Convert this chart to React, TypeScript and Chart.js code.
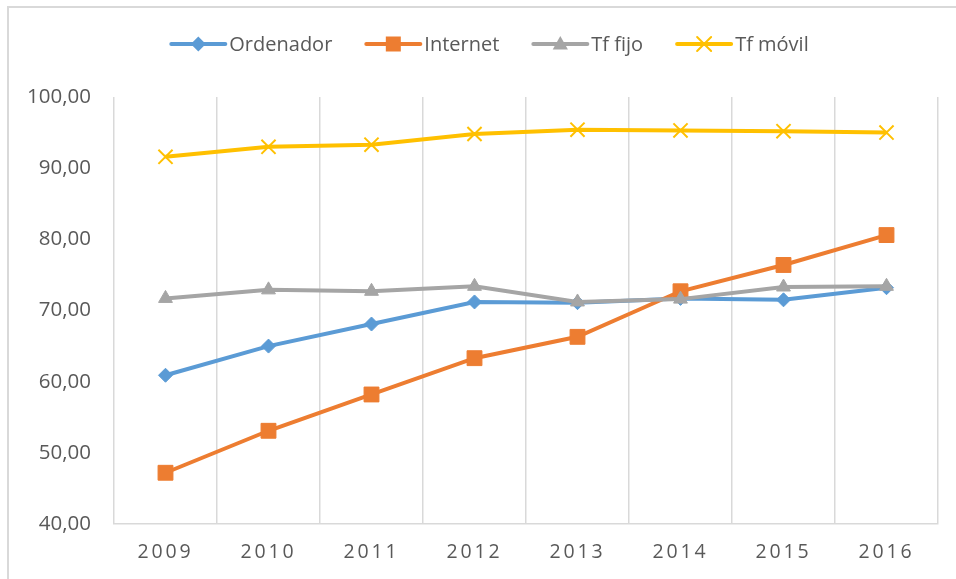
import React, { useEffect, useRef } from "react";
import { Chart, registerables } from "chart.js";

Chart.register(...registerables);

const years = ["2009", "2010", "2011", "2012", "2013", "2014", "2015", "2016"];
const ordenador = [60.9, 65.0, 68.1, 71.2, 71.1, 71.7, 71.5, 73.2];
const internet = [47.2, 53.1, 58.2, 63.3, 66.3, 72.7, 76.4, 80.6];
const tfFijo = [71.7, 72.9, 72.7, 73.4, 71.2, 71.6, 73.3, 73.4];
const tfMovil = [91.6, 93.0, 93.3, 94.8, 95.4, 95.3, 95.2, 95.0];
const yTicks = { min: 40, max: 100, step: 10 };

const FONT = "'Open Sans', sans-serif";
const TEXT = "#595959";
const GRID = "#d9d9d9";

const seriesDefs = [
  { label: "Ordenador", data: ordenador, color: "#5B9BD5", style: "rectRot", radius: 7, order: 4 },
  { label: "Internet", data: internet, color: "#ED7D31", style: "rect", radius: 10.5, order: 3 },
  { label: "Tf fijo", data: tfFijo, color: "#A5A5A5", style: "triangle", radius: 8, order: 2 },
  { label: "Tf móvil", data: tfMovil, color: "#FFC000", style: "crossRot", radius: 10, order: 1 },
];

function drawMarker(ctx: CanvasRenderingContext2D, style: string, x: number, y: number, color: string) {
  ctx.fillStyle = color;
  ctx.strokeStyle = color;
  ctx.beginPath();
  if (style === "rectRot") {
    const r = 7.5;
    ctx.moveTo(x, y - r);
    ctx.lineTo(x + r, y);
    ctx.lineTo(x, y + r);
    ctx.lineTo(x - r, y);
    ctx.closePath();
    ctx.fill();
  } else if (style === "rect") {
    const h = 7.5;
    ctx.rect(x - h, y - h, 2 * h, 2 * h);
    ctx.fill();
  } else if (style === "triangle") {
    const r = 8;
    ctx.moveTo(x, y - r);
    ctx.lineTo(x + r * 0.95, y + r * 0.7);
    ctx.lineTo(x - r * 0.95, y + r * 0.7);
    ctx.closePath();
    ctx.fill();
  } else {
    const h = 7;
    ctx.lineWidth = 2;
    ctx.moveTo(x - h, y - h);
    ctx.lineTo(x + h, y + h);
    ctx.moveTo(x + h, y - h);
    ctx.lineTo(x - h, y + h);
    ctx.stroke();
  }
}

const legendPlugin = {
  id: "customLegend",
  afterDraw(chart: any) {
    const ctx = chart.ctx;
    ctx.save();
    ctx.font = `20px ${FONT}`;
    const lineLen = 54;
    const gapText = 4;
    const gapItem = 34;
    const widths = seriesDefs.map((s) => ctx.measureText(s.label).width);
    const total =
      widths.reduce((a, w) => a + lineLen + gapText + w, 0) + gapItem * (seriesDefs.length - 1);
    let x = 490 - total / 2;
    const y = 44;
    seriesDefs.forEach((s, i) => {
      ctx.strokeStyle = s.color;
      ctx.lineWidth = 4;
      ctx.lineCap = "round";
      ctx.beginPath();
      ctx.moveTo(x, y);
      ctx.lineTo(x + lineLen, y);
      ctx.stroke();
      drawMarker(ctx, s.style, x + lineLen / 2, y, s.color);
      ctx.fillStyle = TEXT;
      ctx.textBaseline = "middle";
      ctx.textAlign = "left";
      ctx.fillText(s.label, x + lineLen + gapText, y + 1);
      x += lineLen + gapText + widths[i] + gapItem;
    });
    ctx.restore();
  },
};

const spacingPlugin = {
  id: "xLetterSpacing",
  afterLayout(chart: any) {
    const s = chart.scales.x;
    if (s && !s.__wrapped) {
      const orig = s.drawLabels.bind(s);
      s.drawLabels = (area: any) => {
        const ctx = chart.ctx;
        ctx.save();
        (ctx as any).letterSpacing = "2.8px";
        orig(area);
        ctx.restore();
      };
      s.__wrapped = true;
    }
  },
};

export default function App() {
  const ref = useRef<HTMLCanvasElement>(null);
  useEffect(() => {
    if (!ref.current) return;
    const chart = new Chart(ref.current, {
      type: "line",
      data: {
        labels: years,
        datasets: seriesDefs.map((s) => ({
          label: s.label,
          data: s.data,
          borderColor: s.color,
          backgroundColor: s.color,
          pointBackgroundColor: s.color,
          pointBorderColor: s.color,
          pointStyle: s.style as any,
          pointRadius: s.radius,
          pointHoverRadius: s.radius,
          pointBorderWidth: s.style === "crossRot" ? 2 : 1,
          borderWidth: 4,
          tension: 0,
          fill: false,
          order: s.order,
        })),
      },
      options: {
        animation: false,
        responsive: false,
        maintainAspectRatio: false,
        layout: { padding: { left: 0, right: 18, top: 97, bottom: 0 } },
        plugins: { legend: { display: false }, tooltip: { enabled: false } },
        scales: {
          x: {
            offset: true,
            grid: { display: true, offset: true, color: GRID, lineWidth: 1.5, drawTicks: false },
            border: { display: true, color: GRID, width: 1.5 },
            ticks: { color: TEXT, font: { family: FONT, size: 19.5 }, padding: 17, maxRotation: 0 },
            afterFit: (scale: any) => {
              scale.height = 55;
            },
          },
          y: {
            min: yTicks.min,
            max: yTicks.max,
            grid: { display: false, drawTicks: false },
            border: { display: false },
            ticks: {
              stepSize: yTicks.step,
              color: TEXT,
              font: { family: FONT, size: 20.5 },
              padding: 23,
              callback: (v: any) => Number(v).toFixed(2).replace(".", ","),
            },
            afterFit: (scale: any) => {
              scale.width = 114;
            },
          },
        },
      },
      plugins: [legendPlugin, spacingPlugin],
    });
    return () => chart.destroy();
  }, []);
  return (
    <div style={{ position: "fixed", left: 0, top: 0, width: 956, height: 579, background: "#fff", overflow: "hidden" }}>
      <div
        style={{
          position: "absolute",
          left: 7,
          top: 6,
          width: 1000,
          height: 700,
          borderTop: `2px solid ${GRID}`,
          borderLeft: `2px solid ${GRID}`,
        }}
      />
      <canvas ref={ref} width={956} height={579} style={{ position: "absolute", left: 0, top: 0, width: 956, height: 579 }} />
    </div>
  );
}
